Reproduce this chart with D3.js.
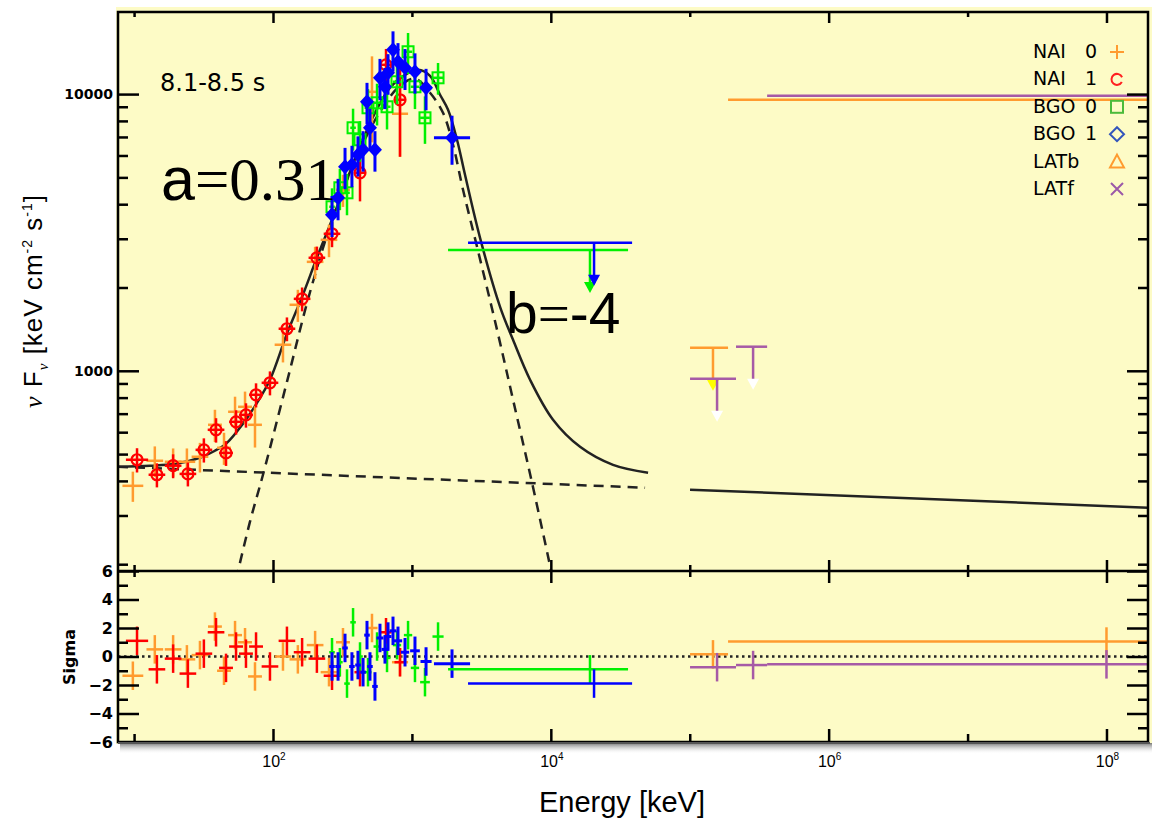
<!DOCTYPE html>
<html>
<head>
<meta charset="utf-8">
<title>nuFnu spectrum 8.1-8.5 s</title>
<script src="https://d3js.org/d3.v7.min.js"></script>
<style>
body { margin: 0; padding: 0; background: #fff; }
svg { display: block; }
.ticks line { stroke: #000; stroke-width: 2.5px; }
.ylab text { font-family: "DejaVu Sans", sans-serif; font-weight: bold; fill: #000; }
</style>
</head>
<body>
<div id="chart"></div>
<script>
// ---- data ----
// NAI 0 (orange crosses)
var nai0E   = [9.8, 14.1, 19.1, 24.0, 29.8, 38.2, 44.4, 53.3, 62.9, 74.2, 118, 151, 201, 253, 319, 516, 821];
var nai0Bin = [0.075, 0.06, 0.06, 0.06, 0.06, 0.05, 0.05, 0.05, 0.05, 0.05, 0.06, 0.06, 0.06, 0.06, 0.05, 0.04, 0.058];
var nai0F   = [384, 473, 469, 469, 489, 638, 527, 711, 741, 638, 1242, 1732, 2476, 2974, 4510, 10190, 8490];
var nai0Err = [48, 60, 55, 55, 60, 85, 70, 95, 100, 110, 170, 230, 330, 400, 600, 3500, 2560];
var nai0Res = [-1.35, 0.5, 0.5, -0.2, 0.1, 2.1, -1.0, 1.5, 1.0, -1.4, 0.0, -0.2, 0.8, -1.1, 1.0, 2.0, -0.4];

// NAI 1 (red circles)
var nai1E   = [10.5, 14.6, 19.1, 24.4, 31.8, 38.9, 45.9, 54.2, 63.9, 75.5, 95.1, 126, 162, 207, 266, 423, 651, 821];
var nai1Bin = [0.08, 0.06, 0.06, 0.06, 0.06, 0.06, 0.05, 0.05, 0.05, 0.05, 0.06, 0.06, 0.06, 0.06, 0.06, 0.04, 0.04, 0.04];
var nai1F   = [477, 421, 454, 424, 518, 612, 505, 654, 693, 819, 905, 1419, 1820, 2561, 3127, 5195, 12760, 9537];
var nai1Err = [48, 42, 45, 42, 52, 62, 52, 66, 70, 82, 90, 140, 180, 250, 330, 1100, 1800, 3600];
var nai1Res = [1.1, -0.9, -0.15, -1.2, 0.2, 1.7, -0.8, 0.7, 0.2, 0.7, -0.7, 1.1, 0.3, -0.15, -1.35, -1.1, 1.7, -0.4];

// BGO 0 (green squares)
var bgo0E   = [266, 303, 341, 377, 423, 483, 561, 662, 781, 938, 1052, 1242, 1542];
var bgo0Bin = [0.02, 0.02, 0.02, 0.02, 0.02, 0.025, 0.025, 0.025, 0.03, 0.03, 0.03, 0.035, 0.04];
var bgo0F   = [3915, 4586, 4398, 7555, 6838, 8923, 9302, 8998, 11080, 14223, 10627, 8209, 11453];
var bgo0Err = [650, 780, 750, 1300, 1150, 1500, 1600, 1550, 1900, 2400, 1800, 1600, 1500];
var bgo0Res = [0.3, -0.4, -1.9, 2.4, 0.0, -1.1, 0.7, -0.1, 0.8, 1.5, -0.8, -1.8, 1.4];

// BGO 1 (blue diamonds)
var bgo1E   = [266, 294, 330, 370, 409, 445, 475, 499, 542, 589, 640, 673, 731, 794, 892, 1052, 1264, 1944];
var bgo1Bin = [0.02, 0.02, 0.02, 0.02, 0.02, 0.02, 0.02, 0.02, 0.02, 0.025, 0.025, 0.025, 0.025, 0.03, 0.03, 0.035, 0.04, 0.13];
var bgo1F   = [3664, 4219, 5462, 5554, 6035, 6294, 9380, 7555, 6294, 11453, 10627, 11942, 14456, 13081, 12448, 12036, 10538, 6953];
var bgo1Err = [620, 720, 930, 950, 1000, 1050, 1600, 1300, 1050, 1950, 1800, 2000, 2400, 2200, 2100, 2000, 1800, 1400];
var bgo1Res = [-0.7, -0.7, 0.6, -0.7, -0.6, -1.1, 1.5, -0.7, -2.1, 1.3, 0.5, 1.4, 1.8, 1.1, 0.3, 0.4, -0.35, -0.5];

// upper limits: centre, bin low, bin high, flux, residual, arrow shown
var bgo0ULE = [19140], bgo0ULLo = [1820],  bgo0ULHi = [35970], bgo0ULF = [2734], bgo0ULRes = [-0.9], bgo0ULArrow = [true];
var bgo1ULE = [20470], bgo1ULLo = [2535],  bgo1ULHi = [38460], bgo1ULF = [2904], bgo1ULRes = [-1.9], bgo1ULArrow = [true];
var latbE   = [147000, 1e8];           var latbLo = [100500, 188700];         var latbHi = [188700, 1e9];
var latbF   = [1211, 9537];            var latbRes = [0.15, 1.05];            var latbArrow = [true, false];
var latfE   = [157300, 285800, 1e8];   var latfLo = [100500, 215300, 360600]; var latfHi = [215300, 360600, 1e9];
var latfF   = [936, 1222, 9860];       var latfRes = [-0.75, -0.6, -0.55];    var latfArrow = [true, true, false];

// model curves (keV, keV cm^-2 s^-1)
var totalE = [7.66, 13.0, 19.7, 29.8, 38.2, 46.6, 60.8, 76.7, 95.1, 126, 162, 207, 266, 330, 423, 542, 695, 892, 1106, 1350, 1594, 1820, 2112, 2411, 3093, 4310, 5345, 7085, 10370, 16230, 28040, 50120];
var totalF = [450, 454, 461, 485, 514, 549, 644, 766, 928, 1361, 1851, 2561, 3513, 4701, 6450, 8557, 10540, 11740, 12240, 11645, 9942, 8777, 6838, 5109, 3024, 1703, 1294, 928, 665, 531, 457, 428];
var bandE  = [54.2, 68.3, 84.7, 126, 185, 279, 423, 589, 821, 1052, 1350, 1674, 1977, 2333, 2943, 4100, 5345, 7322, 10370];
var bandF  = [176, 285, 421, 912, 1930, 3754, 6292, 8630, 10720, 11360, 10110, 8557, 6558, 4510, 2806, 1407, 786, 394, 176];
var plE    = [7.66, 47680];
var plF    = [450, 378];
var latModelE = [100500, 1.99e8];
var latModelF = [372, 320];

// axis ticks and labels
var yMajor = [1000, 10000];
var yMinor = [200, 300, 400, 500, 600, 700, 800, 900, 2000, 3000, 4000, 5000, 6000, 7000, 8000, 9000];
var rMajor = [-6, -4, -2, 0, 2, 4, 6];
var rMinor = [-5, -3, -1, 1, 3, 5];
var xMajor = [1e2, 1e4, 1e6, 1e8];
var xMajorExp = ["2", "4", "6", "8"];
var xMinor = [1e1, 1e3, 1e5, 1e7];

var legendNames = ["NAI", "NAI", "BGO", "BGO", "LATb", "LATf"];
var legendNums  = ["0", "1", "0", "1", "", ""];

// ---- layout ----
var W = 1152, H = 822;
var pLeft = 118, pRight = 1148, pTop = 12, pMid = 571, pBottom = 742;
var BG = "#fdfbc6";
var ORANGE = "#ff9b2f", RED = "#ff0000", GREEN = "#00f000", BLUE = "#0000ff", PURPLE = "#a65aa6";

var x = d3.scaleLog().domain([7.66, 1.99e8]).range([pLeft, pRight]);
var y = d3.scaleLog().domain([189, 19800]).range([pMid, pTop]);
var yr = d3.scaleLinear().domain([-6, 6]).range([pBottom, pMid]);

var svg = d3.select("#chart").append("svg").attr("width", W).attr("height", H);
var defs = svg.append("defs");
defs.append("clipPath").attr("id", "clipTop").append("rect")
  .attr("x", pLeft).attr("y", pTop).attr("width", pRight - pLeft).attr("height", pMid - pTop);
defs.append("clipPath").attr("id", "clipBot").append("rect")
  .attr("x", pLeft).attr("y", pMid).attr("width", pRight - pLeft).attr("height", pBottom - pMid);
var grad = defs.append("linearGradient").attr("id", "shadow")
  .attr("x1", 0).attr("y1", 0).attr("x2", 0).attr("y2", 1);
grad.append("stop").attr("offset", "0%").attr("stop-color", "#777");
grad.append("stop").attr("offset", "100%").attr("stop-color", "#fff").attr("stop-opacity", 0);

svg.append("rect").attr("x", 116).attr("y", 7).attr("width", W - 116).attr("height", pBottom - 5).attr("fill", BG);
svg.append("rect").attr("x", pLeft + 2).attr("y", pBottom + 1).attr("width", W - pLeft - 2).attr("height", 11)
  .attr("fill", "url(#shadow)");

var gTop = svg.append("g").attr("clip-path", "url(#clipTop)");
var gBot = svg.append("g").attr("clip-path", "url(#clipBot)");

// ---- model curves ----
var line = d3.line().x(function(d) { return x(d[0]); }).y(function(d) { return y(d[1]); })
  .curve(d3.curveCatmullRom.alpha(0.5));
function pairs(a, b) { return a.map(function(v, i) { return [v, b[i]]; }); }

gTop.append("path").datum(pairs(plE, plF)).attr("d", line)
  .attr("fill", "none").attr("stroke", "#222").attr("stroke-width", 2.5).attr("stroke-dasharray", "10,7");
gTop.append("path").datum(pairs(bandE, bandF)).attr("d", line)
  .attr("fill", "none").attr("stroke", "#222").attr("stroke-width", 2.5).attr("stroke-dasharray", "10,7");
gTop.append("path").datum(pairs(totalE, totalF)).attr("d", line)
  .attr("fill", "none").attr("stroke", "#222").attr("stroke-width", 2.5);
gTop.append("path").datum(pairs(latModelE, latModelF)).attr("d", line)
  .attr("fill", "none").attr("stroke", "#222").attr("stroke-width", 2.5);

// residual zero line
gBot.append("line").attr("x1", pLeft).attr("x2", pRight).attr("y1", yr(0)).attr("y2", yr(0))
  .attr("stroke", "#222").attr("stroke-width", 2.5).attr("stroke-dasharray", "2.5,3.5");

// ---- data points ----
function drawSeries(E, bin, F, err, R, color, width, marker) {
  var t = gTop.append("g").attr("stroke", color).attr("stroke-width", width);
  var b = gBot.append("g").attr("stroke", color).attr("stroke-width", width);
  E.forEach(function(e, i) {
    var lo = e / Math.pow(10, bin[i]), hi = e * Math.pow(10, bin[i]);
    var py = y(F[i]), px = x(e);
    t.append("line").attr("x1", x(lo)).attr("x2", x(hi)).attr("y1", py).attr("y2", py);
    t.append("line").attr("x1", px).attr("x2", px)
      .attr("y1", y(Math.max(F[i] - err[i], 150))).attr("y2", y(F[i] + err[i]));
    if (marker === "circle") {
      t.append("circle").attr("cx", px).attr("cy", py).attr("r", 5.5).attr("fill", "none").attr("stroke-width", 2.2);
    } else if (marker === "square") {
      t.append("rect").attr("x", px - 5.5).attr("y", py - 5.5).attr("width", 11).attr("height", 11)
        .attr("fill", "none").attr("stroke-width", 2);
    } else if (marker === "diamond") {
      t.append("path").attr("d", "M" + px + "," + (py - 7.5) + "L" + (px + 7) + "," + py + "L" + px + "," + (py + 7.5) + "L" + (px - 7) + "," + py + "Z")
        .attr("fill", color).attr("stroke", "none");
    }
    var ry = yr(R[i]);
    b.append("line").attr("x1", x(lo)).attr("x2", x(hi)).attr("y1", ry).attr("y2", ry);
    b.append("line").attr("x1", px).attr("x2", px).attr("y1", yr(R[i] - 1)).attr("y2", yr(R[i] + 1));
  });
}

function drawUL(E, lo, hi, F, R, arrow, color, head) {
  var t = gTop.append("g").attr("stroke", color).attr("stroke-width", 2.5);
  var b = gBot.append("g").attr("stroke", color).attr("stroke-width", 2.5);
  E.forEach(function(e, i) {
    var px = x(e), py = y(F[i]);
    t.append("line").attr("x1", x(lo[i])).attr("x2", x(hi[i])).attr("y1", py).attr("y2", py);
    if (arrow[i]) {
      t.append("line").attr("x1", px).attr("x2", px).attr("y1", py).attr("y2", py + 34);
      t.append("path").attr("d", "M" + (px - 6) + "," + (py + 32) + "L" + (px + 6) + "," + (py + 32) + "L" + px + "," + (py + 43) + "Z")
        .attr("fill", head).attr("stroke", "none");
    }
    var ry = yr(R[i]);
    b.append("line").attr("x1", x(lo[i])).attr("x2", x(hi[i])).attr("y1", ry).attr("y2", ry);
    b.append("line").attr("x1", px).attr("x2", px).attr("y1", yr(R[i] - 1)).attr("y2", yr(R[i] + 1));
  });
}

drawSeries(nai0E, nai0Bin, nai0F, nai0Err, nai0Res, ORANGE, 2.5, "none");
drawSeries(nai1E, nai1Bin, nai1F, nai1Err, nai1Res, RED, 2.5, "circle");
drawSeries(bgo0E, bgo0Bin, bgo0F, bgo0Err, bgo0Res, GREEN, 2.5, "square");
drawSeries(bgo1E, bgo1Bin, bgo1F, bgo1Err, bgo1Res, BLUE, 3, "diamond");
drawUL(bgo0ULE, bgo0ULLo, bgo0ULHi, bgo0ULF, bgo0ULRes, bgo0ULArrow, GREEN, GREEN);
drawUL(bgo1ULE, bgo1ULLo, bgo1ULHi, bgo1ULF, bgo1ULRes, bgo1ULArrow, BLUE, BLUE);
drawUL(latbE, latbLo, latbHi, latbF, latbRes, latbArrow, ORANGE, "#ffff00");
drawUL(latfE, latfLo, latfHi, latfF, latfRes, latfArrow, PURPLE, "#ffffff");

// ---- axes ----
function ticks(g, axis) { g.attr("class", "ticks").call(axis); g.select(".domain").remove(); g.selectAll("text").remove(); }

// y axes, top panel
ticks(svg.append("g").attr("transform", "translate(" + pLeft + ",0)"), d3.axisRight(y).tickValues(yMajor).tickSize(21));
ticks(svg.append("g").attr("transform", "translate(" + pLeft + ",0)"), d3.axisRight(y).tickValues(yMinor).tickSize(10));
ticks(svg.append("g").attr("transform", "translate(" + pRight + ",0)"), d3.axisLeft(y).tickValues(yMajor).tickSize(21));
ticks(svg.append("g").attr("transform", "translate(" + pRight + ",0)"), d3.axisLeft(y).tickValues(yMinor).tickSize(10));
// y axes, residual panel
ticks(svg.append("g").attr("transform", "translate(" + pLeft + ",0)"), d3.axisRight(yr).tickValues(rMajor).tickSize(21));
ticks(svg.append("g").attr("transform", "translate(" + pLeft + ",0)"), d3.axisRight(yr).tickValues(rMinor).tickSize(10));
ticks(svg.append("g").attr("transform", "translate(" + pRight + ",0)"), d3.axisLeft(yr).tickValues(rMajor).tickSize(21));
ticks(svg.append("g").attr("transform", "translate(" + pRight + ",0)"), d3.axisLeft(yr).tickValues(rMinor).tickSize(10));
// x axes
ticks(svg.append("g").attr("transform", "translate(0," + pTop + ")"), d3.axisBottom(x).tickValues(xMajor).tickSize(11));
ticks(svg.append("g").attr("transform", "translate(0," + pTop + ")"), d3.axisBottom(x).tickValues(xMinor).tickSize(5));
ticks(svg.append("g").attr("transform", "translate(0," + pMid + ")"), d3.axisBottom(x).tickValues(xMajor).tickSize(12));
ticks(svg.append("g").attr("transform", "translate(0," + pMid + ")"), d3.axisTop(x).tickValues(xMajor).tickSize(11));
ticks(svg.append("g").attr("transform", "translate(0," + pMid + ")"), d3.axisBottom(x).tickValues(xMinor).tickSize(6));
ticks(svg.append("g").attr("transform", "translate(0," + pMid + ")"), d3.axisTop(x).tickValues(xMinor).tickSize(6));
ticks(svg.append("g").attr("transform", "translate(0," + pBottom + ")"), d3.axisTop(x).tickValues(xMajor).tickSize(13));
ticks(svg.append("g").attr("transform", "translate(0," + pBottom + ")"), d3.axisTop(x).tickValues(xMinor).tickSize(8));

// frame
var frame = svg.append("g").attr("stroke", "#000").attr("stroke-width", 2.5).attr("fill", "none");
frame.append("rect").attr("x", pLeft).attr("y", pTop).attr("width", pRight - pLeft).attr("height", pBottom - pTop);
frame.append("line").attr("x1", pLeft).attr("x2", pRight).attr("y1", pMid).attr("y2", pMid);
frame.append("line").attr("x1", pLeft).attr("x2", pRight + 2).attr("y1", pBottom + 1).attr("y2", pBottom + 1)
  .attr("stroke", "#555").attr("stroke-width", 2);

// tick labels
var yl = svg.append("g").attr("class", "ylab").attr("transform", "translate(" + pLeft + ",0)")
  .call(d3.axisLeft(y).tickValues(yMajor).tickSize(0).tickPadding(5).tickFormat(d3.format("d")));
yl.select(".domain").remove();
yl.selectAll("text").style("font-size", "14px");
var rl = svg.append("g").attr("class", "ylab").attr("transform", "translate(" + pLeft + ",0)")
  .call(d3.axisLeft(yr).tickValues(rMajor).tickSize(0).tickPadding(5).tickFormat(d3.format("d")));
rl.select(".domain").remove();
rl.selectAll("text").style("font-size", "16px");

var xl = svg.append("g").attr("font-family", "Liberation Sans, Arial, sans-serif").attr("fill", "#000");
xMajor.forEach(function(v, i) {
  var t = xl.append("text").attr("x", x(v) + 1).attr("y", 767).attr("text-anchor", "middle").attr("font-size", 16);
  t.append("tspan").text("10");
  t.append("tspan").attr("font-size", 10).attr("dy", -7).text(xMajorExp[i]);
});

// axis titles
svg.append("text").attr("x", 622).attr("y", 812).attr("text-anchor", "middle")
  .attr("font-family", "Liberation Sans, Arial, sans-serif").attr("font-size", 29).text("Energy [keV]");

var yt = svg.append("text").attr("transform", "translate(42,301) rotate(-90)").attr("text-anchor", "middle")
  .attr("font-family", "Liberation Sans, Arial, sans-serif").attr("font-size", 26).attr("letter-spacing", 1);
yt.append("tspan").attr("font-family", "Liberation Serif, serif").attr("font-style", "italic").text("\u03bd");
yt.append("tspan").text(" F");
yt.append("tspan").attr("font-family", "Liberation Serif, serif").attr("font-style", "italic")
  .attr("font-size", 15).attr("dy", 6).text("\u03bd");
yt.append("tspan").attr("dy", -6).text(" [keV cm");
yt.append("tspan").attr("font-size", 14).attr("dy", -10).text("-2");
yt.append("tspan").attr("dy", 10).text(" s");
yt.append("tspan").attr("font-size", 14).attr("dy", -10).text("-1");
yt.append("tspan").attr("dy", 10).text("]");

svg.append("text").attr("transform", "translate(75,657) rotate(-90)").attr("text-anchor", "middle")
  .attr("font-family", "DejaVu Sans, sans-serif").attr("font-weight", "bold").attr("font-size", 16).text("Sigma");

// annotations
svg.append("text").attr("x", 160).attr("y", 91).attr("font-family", "DejaVu Sans, sans-serif")
  .attr("font-size", 24).text("8.1-8.5 s");
var ta = svg.append("text").attr("x", 161).attr("y", 200).attr("font-size", 61);
ta.append("tspan").attr("font-family", "Liberation Sans, Arial, sans-serif").text("a");
ta.append("tspan").attr("font-family", "Liberation Serif, serif").text("=0.31");
var tb = svg.append("text").attr("x", 506).attr("y", 333).attr("font-size", 57);
tb.append("tspan").attr("font-family", "Liberation Sans, Arial, sans-serif").text("b");
tb.append("tspan").attr("font-family", "Liberation Serif, serif").text("=");
tb.append("tspan").attr("font-family", "Liberation Sans, Arial, sans-serif").text("-4");

// legend
var lg = svg.append("g").attr("font-family", "DejaVu Sans, sans-serif").attr("font-size", 19);
var legendColors = [ORANGE, "#ff2020", "#4cbb3a", "#3355bb", ORANGE, "#9b59a8"];
legendNames.forEach(function(n, i) {
  var by = 58 + i * 27.4, cy = by - 6, cx = 1117, c = legendColors[i];
  lg.append("text").attr("x", 1033).attr("y", by).text(n);
  if (legendNums[i]) lg.append("text").attr("x", 1097).attr("y", by).attr("text-anchor", "end").text(legendNums[i]);
  var s = lg.append("g").attr("stroke", c).attr("stroke-width", 2).attr("fill", "none");
  if (i === 0) s.append("path").attr("d", "M" + (cx - 7) + "," + cy + "H" + (cx + 7) + "M" + cx + "," + (cy - 7) + "V" + (cy + 7));
  if (i === 1) s.append("path").attr("d", d3.arc()({ innerRadius: 5.5, outerRadius: 5.5, startAngle: 0.5, endAngle: 2 * Math.PI - 0.4 }))
    .attr("transform", "translate(" + cx + "," + cy + ") rotate(90)");
  if (i === 2) s.append("rect").attr("x", cx - 6).attr("y", cy - 6).attr("width", 12).attr("height", 12);
  if (i === 3) s.append("path").attr("d", "M" + cx + "," + (cy - 7) + "L" + (cx + 7) + "," + cy + "L" + cx + "," + (cy + 7) + "L" + (cx - 7) + "," + cy + "Z");
  if (i === 4) s.append("path").attr("d", "M" + cx + "," + (cy - 7) + "L" + (cx + 7) + "," + (cy + 6) + "L" + (cx - 7) + "," + (cy + 6) + "Z");
  if (i === 5) s.append("path").attr("d", "M" + (cx - 6) + "," + (cy - 6) + "L" + (cx + 6) + "," + (cy + 6) + "M" + (cx + 6) + "," + (cy - 6) + "L" + (cx - 6) + "," + (cy + 6));
});
</script>
</body>
</html>
